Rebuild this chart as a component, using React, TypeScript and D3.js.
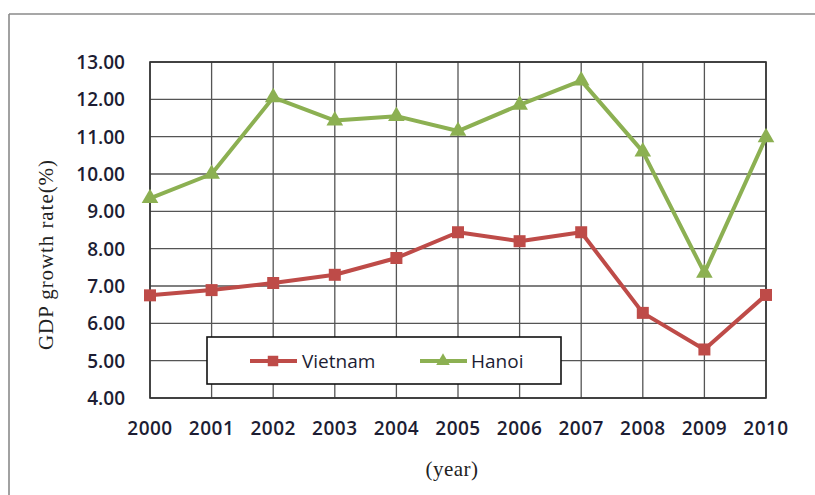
import React from "react";
import * as d3 from "d3";

const years = [2000, 2001, 2002, 2003, 2004, 2005, 2006, 2007, 2008, 2009, 2010];
const vietnam = [6.75, 6.89, 7.08, 7.3, 7.75, 8.44, 8.2, 8.44, 6.28, 5.3, 6.76];
const hanoi = [9.35, 10.0, 12.05, 11.43, 11.55, 11.15, 11.85, 12.5, 10.6, 7.35, 10.98];
const yTicks = [4, 5, 6, 7, 8, 9, 10, 11, 12, 13];
const seriesNames = ["Vietnam", "Hanoi"];

const RED = "#BE4B48";
const GREEN = "#8CB052";
const TXT = "#1d1d33";
const FONT = "'Open Sans', sans-serif";

export default function App() {
  const left = 150, right = 766, top = 62, bottom = 398;
  const x = d3.scaleLinear().domain([2000, 2010]).range([left, right]);
  const y = d3.scaleLinear().domain([4, 13]).range([bottom, top]);
  const line = d3.line<number>().x((_, i) => x(years[i])).y((d) => y(d));
  const sq = d3.symbol().type(d3.symbolSquare).size(144)();
  const tri = d3.symbol().type(d3.symbolTriangle).size(120)();
  const sqSmall = d3.symbol().type(d3.symbolSquare).size(110)();
  const triSmall = d3.symbol().type(d3.symbolTriangle).size(80)();

  return (
    <svg width={815} height={495} style={{ position: "absolute", left: 0, top: 0, background: "#fff" }}>
      <rect x={0} y={0} width={815} height={495} fill="#fff" />
      {/* outer frame (top & left) */}
      <line x1={9} y1={14} x2={815} y2={14} stroke="#8a8a8a" strokeWidth={1.6} />
      <line x1={9} y1={14} x2={9} y2={495} stroke="#8a8a8a" strokeWidth={1.6} />

      {/* grid */}
      {yTicks.map((t) => (
        <line key={"h" + t} x1={left} x2={right} y1={y(t)} y2={y(t)} stroke="#555" strokeWidth={1.3} />
      ))}
      {years.map((yr) => (
        <line key={"v" + yr} x1={x(yr)} x2={x(yr)} y1={top} y2={bottom} stroke="#555" strokeWidth={1.3} />
      ))}
      <rect x={left} y={top} width={right - left} height={bottom - top} fill="none" stroke="#333" strokeWidth={1.6} />

      {/* y tick labels */}
      {yTicks.map((t) => (
        <text key={"yl" + t} x={125} y={y(t)} dy="0.36em" textAnchor="end" fontFamily={FONT} fontSize={19} fontWeight={600} fill={TXT}>
          {t.toFixed(2)}
        </text>
      ))}
      {/* x tick labels */}
      {years.map((yr) => (
        <text key={"xl" + yr} x={x(yr)} y={435} textAnchor="middle" fontFamily={FONT} fontSize={19} fontWeight={600} fill={TXT} letterSpacing={0.5}>
          {yr}
        </text>
      ))}

      {/* axis titles */}
      <text
        transform={`translate(53,${255}) rotate(-90)`}
        textAnchor="middle"
        fontFamily="'Liberation Serif', serif"
        fontSize={21}
        fill="#222"
        textLength={190}
        lengthAdjust="spacing"
      >
        GDP growth rate(%)
      </text>
      <text x={452} y={476} textAnchor="middle" fontFamily="'Liberation Serif', serif" fontSize={21} fill="#222" letterSpacing={0.5}>
        (year)
      </text>

      {/* series */}
      <path d={line(hanoi) || ""} fill="none" stroke={GREEN} strokeWidth={4} strokeLinejoin="round" />
      {hanoi.map((v, i) => (
        <path key={"hm" + i} d={tri} transform={`translate(${x(years[i])},${y(v)})`} fill={GREEN} />
      ))}
      <path d={line(vietnam) || ""} fill="none" stroke={RED} strokeWidth={4} strokeLinejoin="round" />
      {vietnam.map((v, i) => (
        <path key={"vm" + i} d={sq} transform={`translate(${x(years[i])},${y(v)})`} fill={RED} />
      ))}

      {/* legend */}
      <rect x={207} y={337} width={354} height={47} fill="#fff" stroke="#111" strokeWidth={1.6} />
      <line x1={250} x2={297} y1={361} y2={361} stroke={RED} strokeWidth={4} />
      <path d={sqSmall} transform="translate(273,361)" fill={RED} />
      <text x={302} y={361} dy="0.36em" fontFamily={FONT} fontSize={19} fill={TXT}>
        {seriesNames[0]}
      </text>
      <line x1={420} x2={467} y1={361} y2={361} stroke={GREEN} strokeWidth={4} />
      <path d={triSmall} transform="translate(443,361)" fill={GREEN} />
      <text x={471} y={361} dy="0.36em" fontFamily={FONT} fontSize={19} fill={TXT}>
        {seriesNames[1]}
      </text>
    </svg>
  );
}
